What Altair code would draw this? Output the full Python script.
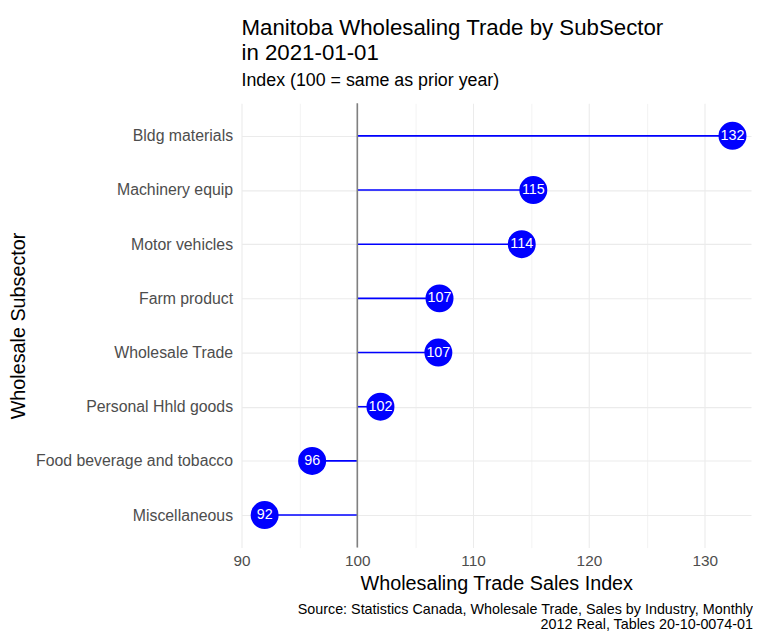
import altair as alt
import pandas as pd

subsectors = ["Bldg materials", "Machinery equip", "Motor vehicles", "Farm product",
              "Wholesale Trade", "Personal Hhld goods", "Food beverage and tobacco", "Miscellaneous"]
index_values = [132.4, 115.2, 114.2, 107.1, 107.0, 102.0, 96.1, 92.0]
baseline = 100
x_ticks = [90, 95, 100, 105, 110, 115, 120, 125, 130]
caption_lines = ["Source: Statistics Canada, Wholesale Trade, Sales by Industry, Monthly",
                 "2012 Real, Tables 20-10-0074-01"]

df = pd.DataFrame({"sub": subsectors, "val": index_values, "base": [baseline] * len(subsectors)})
df["lab"] = [f"{v:.0f}" for v in index_values]

W, H = 515, 449
FONT = "Liberation Sans"

xscale = alt.Scale(domain=[90, 134], nice=False, zero=False)
yscale = alt.Scale(type="point", domain=subsectors, padding=0.6)
yenc = alt.Y("sub:N", sort=subsectors, title="Wholesale Subsector", scale=yscale,
             axis=alt.Axis(labelFontSize=16, labelColor="#4d4d4d", labelPadding=9, labelLimit=0,
                           titleFontSize=20, titleFontWeight="normal", titleColor="black",
                           titlePadding=15, ticks=False, domain=False,
                           grid=True, gridColor="#ebebeb", gridWidth=1.1))

base = alt.Chart(df)

segs = base.mark_rule(color="#0000ff", strokeWidth=1.6).encode(
    x=alt.X("base:Q", scale=xscale, title="Wholesaling Trade Sales Index",
            axis=alt.Axis(values=x_ticks,
                          labelExpr="datum.value % 10 == 0 ? datum.label : ''",
                          labelFlush=False, labelOverlap=False,
                          labelFontSize=15.5, labelColor="#4d4d4d", labelPadding=6,
                          titleFontSize=20, titleFontWeight="normal", titleColor="black",
                          titlePadding=5, ticks=False, domain=False,
                          grid=True, gridColor="#ebebeb",
                          gridWidth={"expr": "datum.value % 10 == 0 ? 1.1 : 0.6"})),
    x2="val:Q",
    y=yenc,
)

vline = alt.Chart(pd.DataFrame({"b": [baseline]})).mark_rule(color="#808080", strokeWidth=1.6).encode(
    x=alt.X("b:Q", scale=xscale)
)

pts = base.mark_circle(color="#0000ff", opacity=1, size=800).encode(
    x=alt.X("val:Q", scale=xscale), y=alt.Y("sub:N", sort=subsectors, scale=yscale)
)

labels = base.mark_text(color="white", fontSize=14.5, font=FONT).encode(
    x=alt.X("val:Q", scale=xscale), y=alt.Y("sub:N", sort=subsectors, scale=yscale), text="lab:N"
)

cap1 = alt.Chart(pd.DataFrame({"t": [caption_lines[0]]})).mark_text(
    align="right", baseline="alphabetic", fontSize=14.5, font=FONT, color="black"
).encode(x=alt.value(W + 2), y=alt.value(516), text="t:N")

cap2 = alt.Chart(pd.DataFrame({"t": [caption_lines[1]]})).mark_text(
    align="right", baseline="alphabetic", fontSize=14.5, font=FONT, color="black"
).encode(x=alt.value(W + 2), y=alt.value(531), text="t:N")

chart = alt.layer(segs, vline, pts, labels, cap1, cap2).properties(
    width=W, height=H,
    title=alt.TitleParams(
        text=["Manitoba Wholesaling Trade by SubSector", "\u00a0in 2021-01-01"],
        subtitle="Index (100 = same as prior year)",
        anchor="start", frame="group", fontSize=22.5, fontWeight="normal", font=FONT,
        color="black", subtitleFontSize=18, subtitleFont=FONT, subtitleColor="black",
        lineHeight=25.5, subtitlePadding=7, offset=13,
    ),
    autosize=alt.AutoSizeParams(type="none"),
    padding={"left": 236, "top": 93, "right": 2, "bottom": 86},
).configure_view(stroke=None).configure_axis(labelFont=FONT, titleFont=FONT)

chart.save("out.html", embed_options={"renderer": "svg", "actions": False})
